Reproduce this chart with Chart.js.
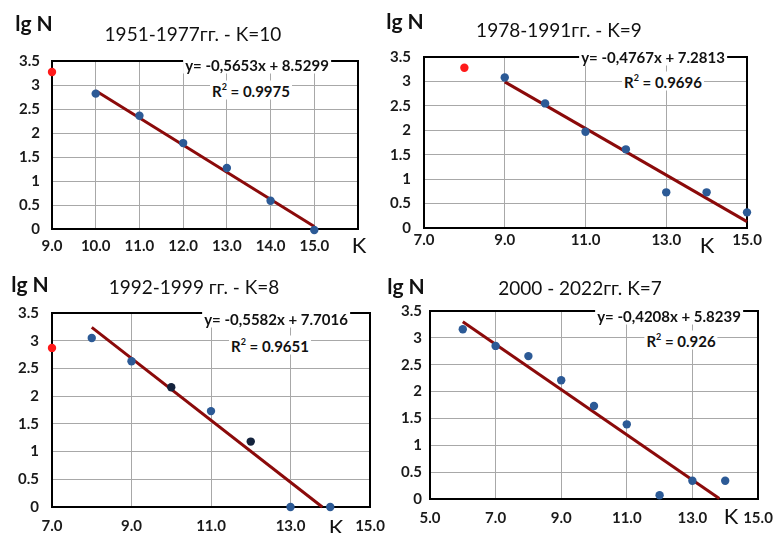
<!DOCTYPE html>
<html>
<head>
<meta charset="utf-8">
<script src="https://cdn.jsdelivr.net/npm/chart.js@4.4.1/dist/chart.umd.min.js"></script>
<style>
html, body { margin: 0; padding: 0; background: #fff; }
#page { position: relative; width: 776px; height: 533px; overflow: hidden; font-family: Lato, "Open Sans", sans-serif; color: #111; }
.wrap { position: absolute; }
.t { position: absolute; transform: translate(-50%, -50%); white-space: nowrap; line-height: 1; }
.title { font-size: 19px; }
.lg { font-size: 21px; font-weight: bold; }
.kk { font-size: 22px; }
.eq { font-size: 15px; font-weight: bold; background: #fff; padding: 1px 2px; }
.eq sup { font-size: 9px; vertical-align: 7px; }
</style>
</head>
<body>
<div id="page">
  <div class="wrap" id="w1"><canvas id="c1"></canvas></div>
  <div class="wrap" id="w2"><canvas id="c2"></canvas></div>
  <div class="wrap" id="w3"><canvas id="c3"></canvas></div>
  <div class="wrap" id="w4"><canvas id="c4"></canvas></div>

  <div class="t title" style="left:193px;top:33px">1951-1977гг. - K=10</div>
  <div class="t title" style="left:559px;top:29px">1978-1991гг. - K=9</div>
  <div class="t title" style="left:194px;top:286px">1992-1999 гг. - K=8</div>
  <div class="t title" style="left:580px;top:287px">2000 - 2022гг. K=7</div>

  <div class="t lg" style="left:34px;top:22px">lg N</div>
  <div class="t lg" style="left:405px;top:20px">lg N</div>
  <div class="t lg" style="left:30px;top:283px">lg N</div>
  <div class="t lg" style="left:406px;top:285px">lg N</div>

  <div class="t kk" style="left:359px;top:245px">K</div>
  <div class="t kk" style="left:707px;top:245px">K</div>
  <div class="t kk" style="left:336px;top:527px">K</div>
  <div class="t kk" style="left:731px;top:516px">K</div>

  <div class="t eq" style="left:257px;top:65px">y= -0,5653x + 8.5299</div>
  <div class="t eq" style="left:251px;top:90px">R<sup>2</sup> = 0.9975</div>
  <div class="t eq" style="left:653px;top:57px">y= -0,4767x + 7.2813</div>
  <div class="t eq" style="left:663px;top:81px">R<sup>2</sup> = 0.9696</div>
  <div class="t eq" style="left:276px;top:319px">y= -0,5582x + 7.7016</div>
  <div class="t eq" style="left:270px;top:345px">R<sup>2</sup> = 0.9651</div>
  <div class="t eq" style="left:669px;top:316px">y= -0,4208x + 5.8239</div>
  <div class="t eq" style="left:681px;top:340px">R<sup>2</sup> = 0.926</div>
</div>
<script>
// 1951-1977
const k1 = [10, 11, 12, 13, 14, 15];
const lg1 = [2.82, 2.36, 1.79, 1.27, 0.59, -0.02];
const redK1 = [9];
const redLg1 = [3.27];
const trendK1 = [10, 15];
const trendLg1 = [2.88, 0.05];
const xLabels1 = ['9.0', '10.0', '11.0', '12.0', '13.0', '14.0', '15.0'];

// 1978-1991
const k2 = [9, 10, 11, 12, 13, 14, 15];
const lg2 = [3.08, 2.55, 1.97, 1.61, 0.73, 0.73, 0.32];
const redK2 = [8];
const redLg2 = [3.28];
const trendK2 = [9, 15];
const trendLg2 = [2.99, 0.13];
const xLabels2 = ['7.0', '9.0', '11.0', '13.0', '15.0'];

// 1992-1999
const k3 = [8, 9, 10, 11, 12, 13, 14];
const lg3 = [3.05, 2.63, 2.16, 1.73, 1.18, 0, 0];
const redK3 = [7];
const redLg3 = [2.87];
const trendK3 = [8, 13.8];
const trendLg3 = [3.24, 0];
const xLabels3 = ['7.0', '9.0', '11.0', '13.0', '15.0'];

// 2000-2022
const k4 = [6, 7, 8, 9, 10, 11, 12, 13, 14];
const lg4 = [3.16, 2.85, 2.66, 2.21, 1.73, 1.39, 0.07, 0.34, 0.34];
const trendK4 = [6, 13.82];
const trendLg4 = [3.30, 0.01];
const xLabels4 = ['5.0', '7.0', '9.0', '11.0', '13.0', '15.0'];

const yLabels = ['0', '0.5', '1', '1.5', '2', '2.5', '3', '3.5'];

const BLUE = '#2c5a96';
const RED = '#ff1a1a';
const TREND = '#8b0a0a';
const GRID = '#a8a8a8';

function pts(xs, ys) {
    return xs.map((x, i) => ({ x: x, y: ys[i] }));
}

const frame = {
    id: 'frame',
    beforeDatasetsDraw(chart) {
        const a = chart.chartArea;
        const c = chart.ctx;
        c.save();
        c.strokeStyle = '#000';
        c.lineWidth = 2;
        c.strokeRect(a.left, a.top, a.right - a.left, a.bottom - a.top);
        c.restore();
    }
};

function panel(n, area, xMin, xMax, step, xLabels, sets, padX, padY) {
    const w = area.right - area.left + 90;
    const h = area.bottom - area.top + 52;
    const wrap = document.getElementById('w' + n);
    wrap.style.left = (area.left - 60) + 'px';
    wrap.style.top = (area.top - 12) + 'px';
    const cv = document.getElementById('c' + n);
    cv.width = w;
    cv.height = h;

    const datasets = [{
        data: pts(sets.k, sets.lg),
        backgroundColor: sets.colors || BLUE,
        borderWidth: 0,
        pointRadius: 4.2
    }];
    if (sets.redK) {
        datasets.push({
            data: pts(sets.redK, sets.redLg),
            backgroundColor: RED,
            borderWidth: 0,
            pointRadius: 4.2
        });
    }
    datasets.push({
        data: pts(sets.tk, sets.tlg),
        showLine: true,
        borderColor: TREND,
        borderWidth: 3,
        pointRadius: 0
    });

    return new Chart(cv.getContext('2d'), {
        type: 'scatter',
        data: { datasets: datasets },
        options: {
            responsive: false,
            animation: false,
            devicePixelRatio: 1,
            layout: { padding: { left: 0, top: 12, right: 30, bottom: 0 } },
            elements: { point: { borderWidth: 0 } },
            datasets: { scatter: { clip: false } },
            plugins: { legend: { display: false }, tooltip: { enabled: false } },
            scales: {
                x: {
                    type: 'linear',
                    min: xMin,
                    max: xMax,
                    afterFit: s => { s.height = 40; },
                    grid: { color: GRID, lineWidth: 1, drawTicks: false },
                    border: { display: false },
                    ticks: {
                        stepSize: step,
                        padding: padX,
                        maxRotation: 0,
                        autoSkip: false,
                        color: '#1a1a1a',
                        font: { family: 'Lato', size: 15, weight: 'bold' },
                        callback: (v, i) => xLabels[i] || ''
                    }
                },
                y: {
                    min: 0,
                    max: 3.5,
                    afterFit: s => { s.width = 60; },
                    grid: { color: GRID, lineWidth: 1, drawTicks: false },
                    border: { display: false },
                    ticks: {
                        stepSize: 0.5,
                        padding: padY,
                        autoSkip: false,
                        color: '#1a1a1a',
                        font: { family: 'Lato', size: 15, weight: 'bold' },
                        callback: (v, i) => yLabels[i]
                    }
                }
            }
        },
        plugins: [frame]
    });
}

panel(1, { left: 52, top: 52, right: 358, bottom: 229 }, 9, 16, 1, xLabels1,
    { k: k1, lg: lg1, redK: redK1, redLg: redLg1, tk: trendK1, tlg: trendLg1 }, 8, 12);
panel(2, { left: 424, top: 47, right: 747, bottom: 228 }, 7, 15, 2, xLabels2,
    { k: k2, lg: lg2, redK: redK2, redLg: redLg2, tk: trendK2, tlg: trendLg2 }, 3, 13);
panel(3, { left: 52, top: 303, right: 370, bottom: 507 }, 7, 15, 2, xLabels3,
    { k: k3, lg: lg3, redK: redK3, redLg: redLg3, tk: trendK3, tlg: trendLg3,
      colors: [BLUE, BLUE, '#14233d', BLUE, '#14233d', BLUE, BLUE] }, 10, 13);
panel(4, { left: 430, top: 306, right: 758, bottom: 499 }, 5, 15, 2, xLabels4,
    { k: k4, lg: lg4, tk: trendK4, tlg: trendLg4 }, 10, 8);
</script>
</body>
</html>
